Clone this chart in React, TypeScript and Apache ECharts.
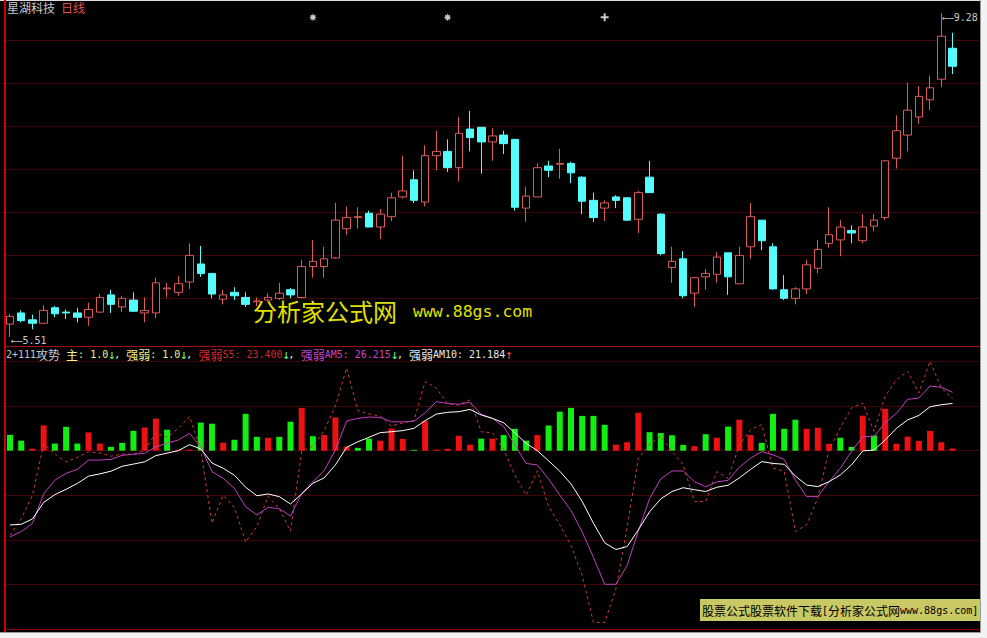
import React, { useEffect, useRef } from 'react';
import * as echarts from 'echarts';

// ---------- data ----------
const stockName = '星湖科技';
const periodName = '日线';

const openP = [
  5.66, 5.79, 5.71, 5.67, 5.85, 5.80, 5.79, 5.74, 5.80, 6.00,
  5.86, 5.94, 5.79, 5.79, 6.07, 6.03, 6.15, 6.36, 6.25, 5.95,
  6.03, 5.97, 5.92, 5.94, 5.96, 6.06, 5.97, 6.33, 6.33, 6.43,
  6.77, 6.90, 6.95, 6.79, 6.91, 7.14, 7.34, 7.08, 7.62, 7.67,
  7.48, 7.93, 7.95, 7.78, 7.86, 7.81, 7.01, 7.14, 7.50, 7.52,
  7.53, 7.37, 7.10, 7.01, 7.14, 7.13, 6.88, 7.37, 6.94, 6.32,
  6.42, 6.02, 6.21, 6.24, 6.49, 6.13, 6.56, 6.87, 6.56, 6.06,
  5.96, 6.07, 6.31, 6.60, 6.64, 6.75, 6.63, 6.80, 6.90, 7.59,
  7.86, 8.07, 8.27, 8.51, 8.87,
];
const closeP = [
  5.75, 5.70, 5.67, 5.82, 5.78, 5.79, 5.74, 5.83, 5.97, 5.89,
  5.96, 5.81, 5.82, 6.14, 6.08, 6.13, 6.46, 6.25, 6.01, 6.00,
  5.99, 5.89, 5.93, 5.97, 6.02, 6.00, 6.33, 6.39, 6.42, 6.87,
  6.90, 6.91, 6.79, 6.94, 7.13, 7.21, 7.10, 7.62, 7.67, 7.48,
  7.88, 7.83, 7.78, 7.85, 7.76, 7.02, 7.15, 7.48, 7.45, 7.53,
  7.42, 7.09, 6.90, 7.07, 7.10, 6.87, 7.19, 7.19, 6.48, 6.39,
  5.99, 6.20, 6.25, 6.44, 6.21, 6.46, 6.91, 6.63, 6.07, 5.96,
  6.07, 6.35, 6.53, 6.70, 6.79, 6.72, 6.79, 6.87, 7.56, 7.91,
  8.15, 8.31, 8.41, 9.01, 8.66,
];
const lowP = [
  5.51, 5.68, 5.60, 5.66, 5.74, 5.72, 5.68, 5.64, 5.79, 5.79,
  5.80, 5.80, 5.68, 5.73, 5.97, 5.99, 6.07, 6.21, 5.96, 5.89,
  5.94, 5.86, 5.87, 5.92, 5.94, 5.96, 5.96, 6.20, 6.20, 6.42,
  6.70, 6.77, 6.79, 6.65, 6.86, 7.12, 7.07, 7.03, 7.45, 7.43,
  7.32, 7.67, 7.41, 7.56, 7.64, 6.98, 6.85, 7.14, 7.37, 7.35,
  7.30, 6.94, 6.85, 6.86, 7.01, 6.86, 6.72, 7.19, 6.46, 6.14,
  5.96, 5.86, 6.06, 6.14, 6.00, 6.13, 6.42, 6.52, 6.06, 5.94,
  5.89, 6.01, 6.25, 6.55, 6.45, 6.60, 6.60, 6.74, 6.87, 7.47,
  7.67, 7.99, 8.15, 8.42, 8.57,
];
const highP = [
  5.78, 5.82, 5.77, 5.88, 5.87, 5.83, 5.85, 5.91, 6.01, 6.06,
  5.99, 6.03, 5.97, 6.20, 6.14, 6.22, 6.60, 6.57, 6.25, 6.06,
  6.09, 6.03, 5.97, 6.02, 6.14, 6.08, 6.41, 6.64, 6.56, 7.07,
  7.03, 7.02, 6.98, 7.00, 7.19, 7.62, 7.45, 7.74, 7.91, 7.81,
  8.07, 8.14, 7.95, 7.94, 7.91, 7.81, 7.26, 7.53, 7.56, 7.70,
  7.55, 7.38, 7.19, 7.10, 7.16, 7.13, 7.21, 7.56, 6.95, 6.56,
  6.51, 6.21, 6.30, 6.50, 6.49, 6.56, 7.07, 6.87, 6.60, 6.23,
  6.09, 6.41, 6.64, 7.02, 6.87, 6.81, 6.94, 6.94, 7.57, 8.09,
  8.47, 8.43, 8.55, 9.28, 9.05,
];

// indicator: main bars (1 = red / strong, 0 = green / weak)
const mainBar = [
  7.1, 4.5, 0.9, 11.3, 3.2, 10.7, 3.2, 8.2, 3.2, 1.7,
  3.5, 8.9, 10.4, 14.4, 9.4, 0.4, 0.5, 12.6, 12.1, 3.6,
  4.9, 16.5, 6.2, 5.8, 6.2, 13.0, 19.2, 6.5, 7.0, 14.9,
  1.8, 1.3, 5.4, 4.5, 9.9, 5.3, 0.4, 13.4, 0.5, 0.8,
  6.7, 2.7, 5.4, 5.4, 7.0, 9.8, 4.5, 7.0, 11.3, 17.5,
  19.2, 15.6, 15.6, 11.6, 2.7, 3.8, 17.0, 8.3, 7.9, 6.9,
  2.6, 2.0, 7.4, 5.8, 10.8, 13.9, 7.0, 3.5, 16.5, 9.8,
  13.9, 9.8, 10.3, 3.1, 5.8, 1.7, 15.7, 6.8, 18.8, 3.1,
  6.3, 4.4, 8.9, 3.8, 1.0,
];
const mainUp = [
  0, 0, 1, 1, 0, 0, 0, 1, 1, 0,
  0, 0, 1, 1, 0, 1, 1, 0, 0, 1,
  0, 0, 0, 1, 0, 0, 1, 0, 1, 1,
  1, 0, 0, 1, 1, 1, 0, 1, 1, 1,
  1, 1, 0, 1, 0, 0, 0, 1, 0, 0,
  0, 0, 0, 0, 1, 1, 1, 0, 0, 0,
  0, 1, 0, 1, 0, 1, 1, 0, 0, 0,
  0, 1, 1, 1, 0, 0, 1, 0, 1, 1,
  1, 1, 1, 1, 1,
];
const s5 = [
  -38, -30.5, -20, 3, -1.5, -5, -3, -0.5, -1, -2.5,
  -1.5, -1.5, 0, 8, 6, 10, 15.3, 0.5, -32.5, -20,
  -25.5, -41, -34, -20.5, -26, -36, 0, 2, 9, 20,
  37, 18, 16.5, 15.5, 11, 12.5, 13.5, 31, 28, 21,
  20.5, 22.8, 8.5, 8, 0.5, -11, -20, -9, -25, -33.2,
  -42.5, -56, -77, -77, -62, -34.5, -3.5, 3, 6.4, -0.3,
  -6.3, -22.8, -22.8, -9.4, -12.4, 2.5, 9.4, 11.7, -7.8, -9.3,
  -36.2, -33.2, -21.2, 0.4, 10.2, 19.1, 21.4, 8.7, 24.4, 31.8,
  35.6, 25.9, 40.1, 28.1, 23.4,
];
const am5 = [
  -38.6, -36.3, -32.6, -19.4, -13.2, -10.2, -8.4, -4.2, -4.2, -3.9,
  -2.1, -1.6, -1.2, 1.8, 3.3, 4.8, 7.8, 1.8, -9.4, -12.4,
  -16.9, -25.1, -28.8, -25.4, -26.0, -29.3, -19.1, -13.9, -8.9, 0.3,
  13.3, 14.5, 15.1, 14.9, 13.0, 12.9, 13.2, 17.0, 22.0, 21.2,
  20.8, 21.7, 16.3, 14.5, 10.8, 2.5, -5.7, -6.4, -12.6, -19.9,
  -26.8, -36.5, -47.8, -59.9, -59.9, -51.5, -36.0, -21.5, -12.6, -9.1,
  -9.1, -13.9, -16.2, -14.0, -13.3, -7.4, -3.4, -0.4, -1.9, -3.9,
  -13.2, -20.6, -20.6, -13.9, -7.9, -0.4, 6.3, 6.3, 12.6, 16.7,
  23.0, 23.6, 29.0, 28.4, 26.215,
];
const am10 = [
  -33.3, -33.0, -30.6, -23.2, -19.7, -17.3, -14.7, -11.4, -10.4, -9.2,
  -7.0, -6.0, -5.0, -2.2, -1.1, 0, 2.7, 0.8, -5.5, -7.9,
  -11.0, -16.4, -20.2, -19.4, -20.6, -23.9, -19.4, -14.6, -12.2, -6.4,
  1.5, 4.0, 6.0, 8.1, 8.5, 9.0, 10.0, 13.5, 16.4, 17.2,
  17.5, 18.5, 16.0, 14.5, 12.5, 8.0, 3.3, 0, -4.5, -9.2,
  -14.9, -22.8, -32.5, -41.3, -44.3, -43.0, -35.5, -27.4, -21.6, -18.3,
  -16.6, -17.5, -18.3, -16.4, -15.5, -12.2, -8.4, -4.9, -5.7, -6.1,
  -11.4, -15.4, -16.1, -13.9, -10.9, -6.4, -0.1, 0.3, 4.8, 10.0,
  13.8, 15.8, 19.7, 20.6, 21.184,
];

const signalIdx = [27, 39, 53];
const signalKind = ['star', 'star', 'plus'];
const signalLevel = 9.23;

const watermarkCn = '分析家公式网';
const watermarkUrl = 'www.88gs.com';
const footerCn1 = '股票公式股票软件下载';
const footerCn2 = '分析家公式网';

// ---------- styles ----------
const UP = '#dc5a5a';
const DOWN = '#54fcfc';
const BAR_RED = '#ee1111';
const BAR_GREEN = '#11ee11';
const GRIDLINE = '#420505';
const MONO = 'DejaVu Sans Mono';
const CJK = 'Noto Sans CJK SC';

const STAR_PATH =
  'path://M5,0 L6,2.6 L8.54,1.46 L7.4,4 L10,5 L7.4,6 L8.54,8.54 L6,7.4 L5,10 L4,7.4 L1.46,8.54 L2.6,6 L0,5 L2.6,4 L1.46,1.46 L4,2.6 Z';
const PLUS_PATH = 'path://M3.8,0 L6.2,0 L6.2,3.8 L10,3.8 L10,6.2 L6.2,6.2 L6.2,10 L3.8,10 L3.8,6.2 L0,6.2 L0,3.8 L3.8,3.8 Z';

function arrow(arr: number[]) {
  const n = arr.length;
  return arr[n - 1] >= arr[n - 2] ? '{up|↑}' : '{dn|↓}';
}

function buildOption() {
  const n = openP.length;
  const cats = openP.map((_, i) => String(i + 1));
  const candles = openP.map((o, i) => [o, closeP[i], lowP[i], highP[i]]);

  let maxIdx = 0;
  let minIdx = 0;
  highP.forEach((h, i) => { if (h > highP[maxIdx]) maxIdx = i; });
  lowP.forEach((l, i) => { if (l < lowP[minIdx]) minIdx = i; });

  const a = (col: string) => ({ fill: col, fontFamily: MONO, fontSize: 10 });
  const c = (col: string) => ({ fill: col, fontFamily: CJK, fontSize: 12 });
  const arr = (col: string) => ({ fill: col, fontFamily: MONO, fontSize: 13, width: 6 });

  const last = n - 1;
  const legendText =
    `{gA|2+111}{gC|攻势}{gA| }` +
    `{yC|主}{yA|: ${mainBar[last].toFixed(1)}}${arrow(mainBar)}{wA|, }` +
    `{yC|强弱}{yA|: ${mainBar[last].toFixed(1)}}${arrow(mainBar)}{wA|, }` +
    `{rC|强弱}{rA|S5: ${s5[last].toFixed(3)}}${arrow(s5)}{wA|, }` +
    `{mC|强弱}{mA|AM5: ${am5[last].toFixed(3)}}${arrow(am5)}{wA|, }` +
    `{wC|强弱}{wA|AM10: ${am10[last].toFixed(3)}}${arrow(am10)}`;

  const hiddenValueAxis = (gridIndex: number, min: number, max: number) => ({
    type: 'value', gridIndex, min, max, show: false,
  });
  const gridlineAxis = (gridIndex: number, min: number, max: number, interval: number) => ({
    type: 'value', gridIndex, min, max, interval,
    axisLine: { show: false }, axisTick: { show: false }, axisLabel: { show: false },
    splitLine: { show: true, lineStyle: { color: GRIDLINE, width: 1 } },
  });

  return {
    animation: false,
    backgroundColor: '#000000',
    grid: [
      { left: 4.4, top: 4, width: 953.7, height: 341 },
      { left: 4.4, top: 348.1, width: 953.7, height: 281 },
      { left: 5, top: 40, width: 975, height: 258.3 },
      { left: 5, top: 361.5, width: 975, height: 267.6 },
    ],
    xAxis: [
      { type: 'category', gridIndex: 0, data: cats, show: false, boundaryGap: true },
      { type: 'category', gridIndex: 1, data: cats, show: false, boundaryGap: true },
      hiddenValueAxis(2, 0, 1),
      hiddenValueAxis(3, 0, 1),
    ],
    yAxis: [
      hiddenValueAxis(0, 5.417, 9.385),
      hiddenValueAxis(1, -80, 46),
      gridlineAxis(2, 0, 6, 1),
      gridlineAxis(3, -80, 40, 20),
    ],
    series: [
      {
        type: 'candlestick',
        xAxisIndex: 0,
        yAxisIndex: 0,
        data: candles,
        barWidth: 8,
        itemStyle: {
          color: '#000000',
          color0: DOWN,
          borderColor: UP,
          borderColor0: DOWN,
          borderWidth: 1,
        },
        markPoint: {
          symbol: 'circle',
          symbolSize: 1,
          itemStyle: { color: 'rgba(0,0,0,0)' },
          label: {
            show: true,
            position: 'right',
            distance: 0,
            color: '#c8c8c8',
            fontFamily: MONO,
            fontSize: 10,
            formatter: (p: any) => '←—' + p.value,
          },
          data: [
            { coord: [cats[maxIdx], highP[maxIdx]], value: highP[maxIdx].toFixed(2), label: { offset: [0, 4] } },
            { coord: [cats[minIdx], lowP[minIdx]], value: lowP[minIdx].toFixed(2), label: { offset: [0, 3] } },
          ],
        },
      },
      {
        type: 'scatter',
        xAxisIndex: 0,
        yAxisIndex: 0,
        symbolSize: 8,
        itemStyle: { color: '#ffffff' },
        data: signalIdx.map((idx, k) => ({
          value: [cats[idx], signalLevel],
          symbol: signalKind[k] === 'plus' ? PLUS_PATH : STAR_PATH,
        })),
        z: 5,
      },
      {
        type: 'bar',
        xAxisIndex: 1,
        yAxisIndex: 1,
        barWidth: 6,
        data: mainBar.map((v, i) => ({
          value: v,
          itemStyle: { color: mainUp[i] ? BAR_RED : BAR_GREEN },
        })),
      },
      {
        type: 'line',
        xAxisIndex: 1,
        yAxisIndex: 1,
        data: s5,
        symbol: 'none',
        lineStyle: { color: '#c83c3c', width: 1, type: [3, 3] },
        z: 3,
      },
      {
        type: 'line',
        xAxisIndex: 1,
        yAxisIndex: 1,
        data: am5,
        symbol: 'none',
        lineStyle: { color: '#c040c0', width: 1 },
        z: 4,
      },
      {
        type: 'line',
        xAxisIndex: 1,
        yAxisIndex: 1,
        data: am10,
        symbol: 'none',
        lineStyle: { color: '#ffffff', width: 1 },
        z: 5,
      },
    ],
    graphic: [
      { type: 'line', z: 50, shape: { x1: 0, y1: 0.5, x2: 981, y2: 0.5 }, style: { stroke: '#dcdcdc', lineWidth: 1 } },
      { type: 'line', z: 50, shape: { x1: 5, y1: 0, x2: 5, y2: 632 }, style: { stroke: '#d00000', lineWidth: 2 } },
      { type: 'line', z: 50, shape: { x1: 5, y1: 346.5, x2: 980, y2: 346.5 }, style: { stroke: '#a01010', lineWidth: 1 } },
      { type: 'line', z: 50, shape: { x1: 5, y1: 629.5, x2: 980, y2: 629.5 }, style: { stroke: '#900000', lineWidth: 1 } },
      { type: 'line', z: 50, shape: { x1: 980.5, y1: 0, x2: 980.5, y2: 633 }, style: { stroke: '#9a9a9a', lineWidth: 1 } },
      { type: 'line', z: 50, shape: { x1: 0, y1: 632.5, x2: 981, y2: 632.5 }, style: { stroke: '#9a9a9a', lineWidth: 1 } },
      {
        type: 'text', z: 60, x: 7, y: 7.5,
        style: {
          text: `{g|${stockName}}{s| }{r|${periodName}}`,
          verticalAlign: 'middle',
          rich: { g: c('#c8c8c8'), r: c('#e05050'), s: a('#c8c8c8') },
        },
      },
      {
        type: 'text', z: 60, x: 6, y: 354,
        style: {
          text: legendText,
          verticalAlign: 'middle',
          rich: {
            gA: a('#c8c8c8'), gC: c('#c8c8c8'),
            yA: a('#f0f08c'), yC: c('#f0f08c'),
            rA: a('#d42a2a'), rC: c('#d42a2a'),
            mA: a('#cc44cc'), mC: c('#cc44cc'),
            wA: a('#e8e8e8'), wC: c('#e8e8e8'),
            dn: arr('#66ee66'), up: arr('#ee4444'),
          },
        },
      },
      {
        type: 'text', z: 60, x: 253, y: 310,
        style: { text: watermarkCn, fill: '#e0e000', fontFamily: CJK, fontSize: 24, verticalAlign: 'middle' },
      },
      {
        type: 'text', z: 60, x: 413, y: 311,
        style: { text: watermarkUrl, fill: '#e0e000', fontFamily: MONO, fontSize: 16.5, verticalAlign: 'middle' },
      },
      { type: 'rect', z: 60, shape: { x: 700, y: 599, width: 280, height: 22 }, style: { fill: '#c8c864' } },
      {
        type: 'text', z: 61, x: 702, y: 610,
        style: {
          text: `{k|${footerCn1}}{ka|[}{k|${footerCn2}}{ka|${watermarkUrl}]}`,
          verticalAlign: 'middle',
          rich: { k: c('#000000'), ka: a('#000000') },
        },
      },
    ],
  };
}

export default function App() {
  const ref = useRef<HTMLDivElement>(null);
  useEffect(() => {
    if (!ref.current) return;
    const chart = echarts.init(ref.current, undefined, { renderer: 'svg' });
    chart.setOption(buildOption() as any);
    return () => chart.dispose();
  }, []);
  return (
    <div style={{ position: 'fixed', left: 0, top: 0, width: 987, height: 638, background: '#f2f2f2' }}>
      <div ref={ref} style={{ position: 'absolute', left: 0, top: 0, width: 981, height: 633 }} />
    </div>
  );
}
